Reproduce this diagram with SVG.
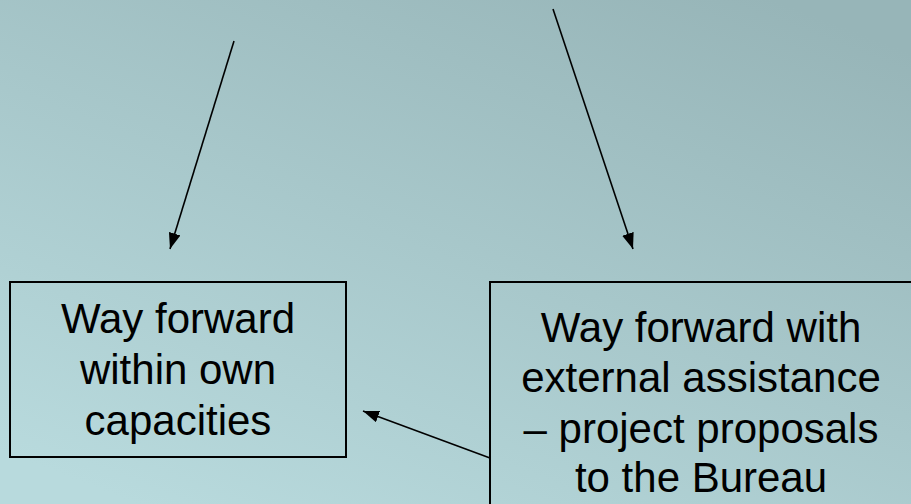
<svg xmlns="http://www.w3.org/2000/svg" width="911" height="504" viewBox="0 0 911 504">
  <defs>
    <linearGradient id="bg" x1="0.15" y1="1" x2="0.85" y2="0">
      <stop offset="0" stop-color="#b8dadd"/>
      <stop offset="1" stop-color="#97b5b8"/>
    </linearGradient>
    <marker id="ah" viewBox="0 0 16 12" refX="16" refY="6" markerWidth="16" markerHeight="12" markerUnits="userSpaceOnUse" orient="auto">
      <path d="M0,0 L16,6 L0,12 Z" fill="#000"/>
    </marker>
  </defs>
  <style>
    .box { fill: none; stroke: #000; stroke-width: 2; }
    .lbl { font-family: "Liberation Sans", Arial, sans-serif; font-size: 42px; fill: #000; text-anchor: middle; }
    .conn { stroke: #000; stroke-width: 1.6; fill: none; marker-end: url(#ah); }
  </style>
  <rect x="0" y="0" width="911" height="504" fill="url(#bg)"/>
  <g id="connectors">
    <line class="conn" x1="234" y1="41" x2="170" y2="249"/>
    <line class="conn" x1="553" y1="9" x2="633" y2="249"/>
    <line class="conn" x1="490" y1="458" x2="363" y2="411"/>
  </g>
  <g id="node-own">
    <rect class="box" x="10" y="282" width="336" height="175"/>
    <text class="lbl" x="178" y="333">Way forward</text>
    <text class="lbl" x="178" y="384">within own</text>
    <text class="lbl" x="178" y="435">capacities</text>
  </g>
  <g id="node-external">
    <rect class="box" x="490" y="282" width="440" height="240"/>
    <text class="lbl" x="701" y="342">Way forward with</text>
    <text class="lbl" x="701" y="392">external assistance</text>
    <text class="lbl" x="701" y="443">– project proposals</text>
    <text class="lbl" x="701" y="492">to the Bureau</text>
  </g>
</svg>
